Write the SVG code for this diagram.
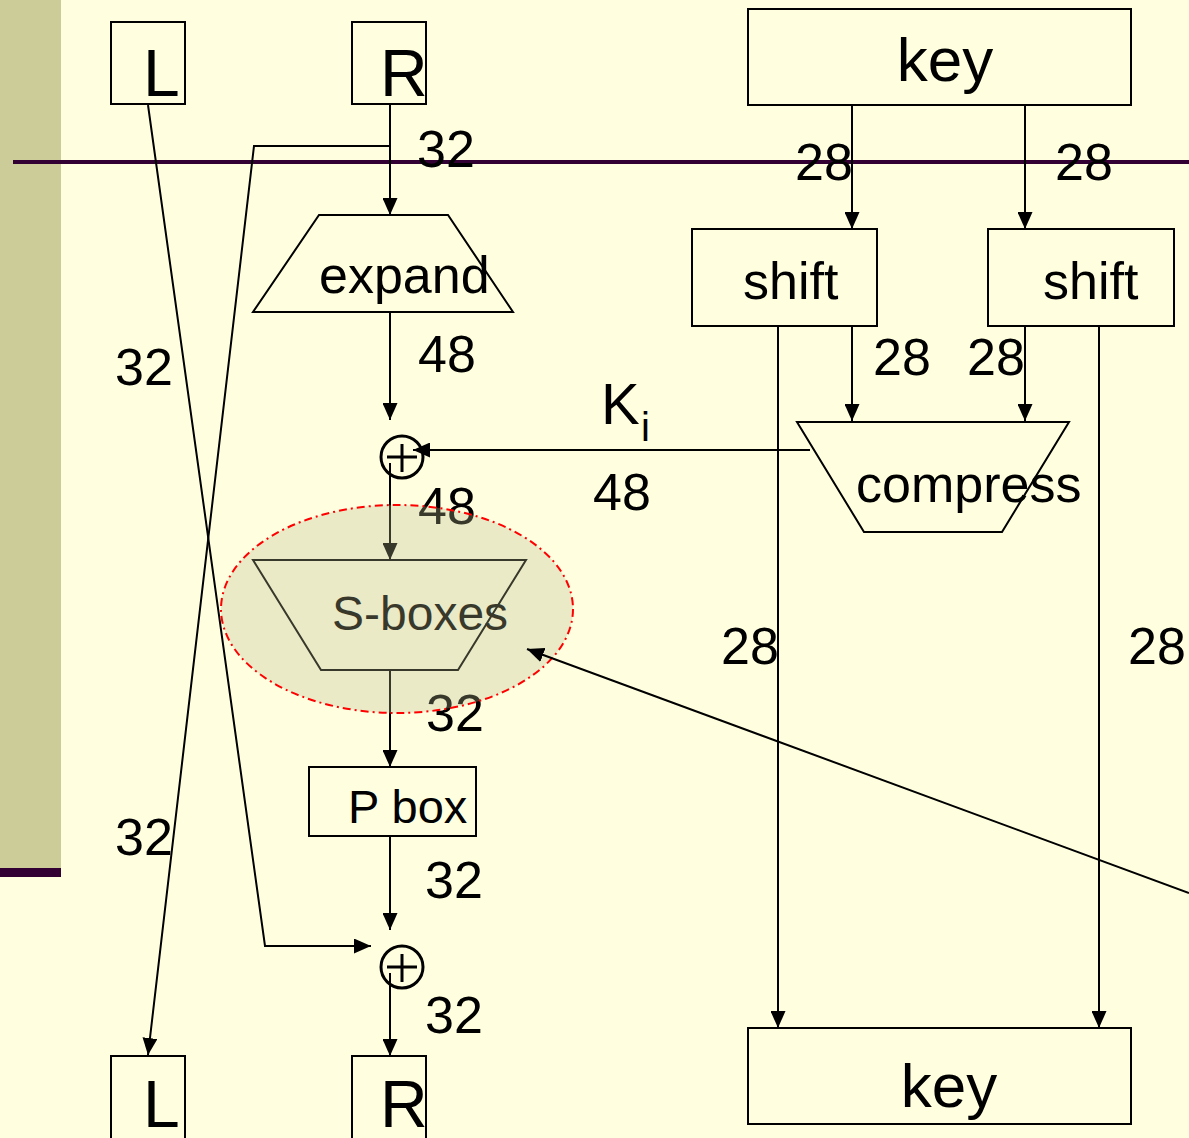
<svg xmlns="http://www.w3.org/2000/svg" width="1189" height="1138" viewBox="0 0 1189 1138">
<style>
.bx{fill:none;stroke:#000;stroke-width:2}
.ln{fill:none;stroke:#000;stroke-width:2}
.xr{fill:none;stroke:#000;stroke-width:3}
.ar{marker-end:url(#ah)}
text{font-family:"Liberation Sans",Arial,sans-serif;fill:#000}
.num{font-size:52px}
.lbl{font-size:52px}
.big{font-size:66px}
.key{font-size:62px}
</style>
<defs>
<marker id="ah" markerUnits="userSpaceOnUse" markerWidth="17" markerHeight="15" viewBox="0 0 17 15" refX="17" refY="7.5" orient="auto">
<path d="M0,0 L17,7.5 L0,15 z" fill="#000"/>
</marker>
</defs>
<rect x="0" y="0" width="1189" height="1138" fill="#FFFFE0"/>
<rect x="0" y="0" width="61" height="868" fill="#CCCC99"/>
<rect x="0" y="868" width="61" height="9" fill="#330033"/>
<rect x="13" y="160" width="1176" height="4" fill="#330033"/>

<g id="L-top"><rect class="bx" x="111" y="22" width="74" height="82"/><text class="big" x="143" y="96">L</text></g>
<g id="R-top"><rect class="bx" x="352" y="22" width="74" height="82"/><text class="big" x="380" y="96">R</text></g>
<g id="key-top"><rect class="bx" x="748" y="9" width="383" height="96"/><text class="key" x="945" y="81" text-anchor="middle">key</text></g>
<g id="shift1"><rect class="bx" x="692" y="229" width="185" height="97"/><text class="lbl" x="743" y="299">shift</text></g>
<g id="shift2"><rect class="bx" x="988" y="229" width="186" height="97"/><text class="lbl" x="1043" y="299">shift</text></g>
<g id="expand"><polygon class="bx" points="319,215 448,215 513,312 253,312"/><text class="lbl" x="319" y="293">expand</text></g>
<g id="compress"><polygon class="bx" points="797,422 1069,422 1002,532 864,532"/><text class="lbl" x="856" y="502">compress</text></g>
<g id="xor1"><circle class="xr" cx="402" cy="457" r="21"/><path class="xr" d="M387,457 H417 M402,444 V472"/></g>
<g id="sboxes"><polygon class="bx" points="253,560 526,560 458,670 321,670"/><text x="332" y="630" style="font-size:48px">S-boxes</text></g>
<g id="pbox"><rect class="bx" x="309" y="767" width="167" height="69"/><text x="348" y="823" style="font-size:47px">P box</text></g>
<g id="xor2"><circle class="xr" cx="402" cy="967" r="21"/><path class="xr" d="M387,967 H417 M402,954 V982"/></g>
<g id="L-bot"><rect class="bx" x="111" y="1056" width="74" height="90"/><text class="big" x="143" y="1127">L</text></g>
<g id="R-bot"><rect class="bx" x="352" y="1056" width="74" height="90"/><text class="big" x="380" y="1127">R</text></g>
<g id="key-bot"><rect class="bx" x="748" y="1028" width="383" height="96"/><text class="key" x="949" y="1107" text-anchor="middle">key</text></g>

<g id="connectors">
<path class="ln ar" d="M390,104 V215"/>
<path class="ln ar" d="M390,146 H254 L148,1055"/>
<path class="ln ar" d="M148,105 L265,946 H371"/>
<path class="ln ar" d="M390,312 V420"/>
<path class="ln ar" d="M810,450 H413"/>
<path class="ln ar" d="M390,463 V560"/>
<path class="ln ar" d="M390,670 V767"/>
<path class="ln ar" d="M390,836 V930"/>
<path class="ln ar" d="M390,973 V1056"/>
<path class="ln ar" d="M852,105 V229"/>
<path class="ln ar" d="M1025,105 V229"/>
<path class="ln ar" d="M852,326 V421"/>
<path class="ln ar" d="M1025,326 V421"/>
<path class="ln ar" d="M778,326 V1028"/>
<path class="ln ar" d="M1099,326 V1028"/>
</g>

<g id="labels">
<text class="num" x="417" y="167">32</text>
<text class="num" x="795" y="180">28</text>
<text class="num" x="1055" y="180">28</text>
<text class="num" x="418" y="372">48</text>
<text class="num" x="873" y="375">28</text>
<text class="num" x="967" y="375">28</text>
<text class="num" x="115" y="385">32</text>
<text x="601" y="424" style="font-size:58px">K</text><text x="641" y="441" style="font-size:40px">i</text>
<text class="num" x="593" y="510">48</text>
<text class="num" x="418" y="524">48</text>
<text class="num" x="721" y="664">28</text>
<text class="num" x="1128" y="664">28</text>
<text class="num" x="426" y="731">32</text>
<text class="num" x="115" y="855">32</text>
<text class="num" x="425" y="898">32</text>
<text class="num" x="425" y="1033">32</text>
</g>

<g id="highlight">
<ellipse cx="397" cy="609" rx="176" ry="104" fill="#B8B890" fill-opacity="0.3" stroke="#FF0000" stroke-width="2" stroke-dasharray="8,4,2,4"/>
</g>
<g id="pointer">
<path class="ln ar" d="M1189,893 L527,649"/>
</g>
</svg>
